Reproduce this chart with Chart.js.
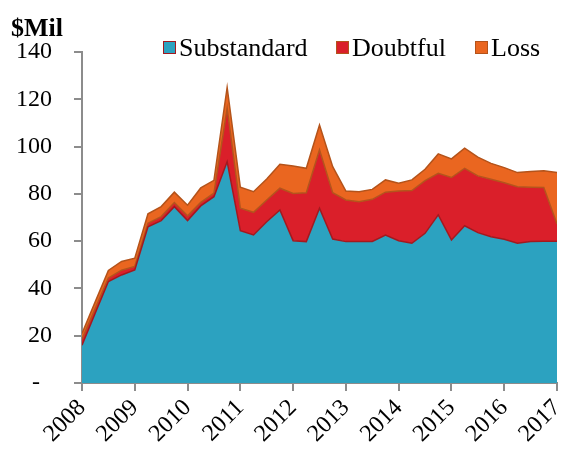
<!DOCTYPE html>
<html>
<head>
<meta charset="utf-8">
<script src="https://cdn.jsdelivr.net/npm/chart.js@4.4.0/dist/chart.umd.min.js"></script>
<style>
    html, body { margin: 0; padding: 0; background: #fff; }
    #wrap { position: relative; width: 561px; height: 454px; }
</style>
</head>
<body>
<div id="wrap"><canvas id="assetChart"></canvas></div>
<script>
// Quarterly values, 2008 Q1 .. 2017 Q1 ($ millions)
const startYear = 2008;
const yearTicks = [2008, 2009, 2010, 2011, 2012, 2013, 2014, 2015, 2016, 2017];

const substandard = [16, 29.5, 42.9, 45.7, 47.8, 66.1, 68.7, 74.6, 68.7, 74.9, 78.8, 93.6,
    64.4, 62.6, 68.2, 73.2, 60.2, 59.8, 73.9, 60.9, 59.8, 59.8, 59.9, 62.6,
    60.2, 59.1, 63.3, 71.1, 60.5, 66.5, 63.6, 61.9, 60.8, 59.1, 59.8, 60, 60];

const doubtful = [2.5, 2, 1.5, 2, 1.5, 1.5, 1.7, 1.7, 2, 1.5, 1.5, 22.6,
    9.5, 9.6, 9.2, 9.2, 20, 20.7, 24.7, 19.6, 17.6, 16.9, 17.8, 18.1,
    21, 22.3, 22.3, 17.6, 26.4, 24.3, 24, 24.3, 23.9, 23.9, 23, 22.7, 7.3];

const loss = [2.5, 2.8, 3.2, 3.7, 3.5, 4, 4.2, 4.4, 4.5, 6.1, 5.4, 8.8,
    8.9, 8.7, 8.9, 10.1, 11.6, 10.3, 10.5, 11, 3.8, 4.2, 4.2, 5.2,
    3.3, 4.5, 4.8, 8.2, 7.9, 8.5, 7.9, 6.7, 6.4, 6, 6.7, 7.1, 21.7];

const seriesNames = ['Substandard', 'Doubtful', 'Loss'];
const fillColors = ['#2CA2C0', '#DA1F2A', '#EA6620'];
const lineColors = ['#A3191F', '#B4541C', '#B4531A'];

const SERIF = '"Liberation Serif", "Times New Roman", serif';
const AXIS_GREY = '#8C8C8C';

// x position of each quarter
function toPoints(values) {
    return values.map((v, i) => ({ x: startYear + i / 4, y: v }));
}

// legend + "$Mil" label drawn on top of the chart
const overlayPlugin = {
    id: 'overlay',
    afterDraw(chart) {
        const c = chart.ctx;
        c.save();
        c.fillStyle = '#000';
        c.font = 'bold 26px ' + SERIF;
        c.textBaseline = 'alphabetic';
        c.textAlign = 'left';
        c.fillText('$Mil', 11, 36);

        c.font = '26px ' + SERIF;
        const boxX = [163, 336, 475];
        chart.data.datasets.forEach((ds, i) => {
            const x = boxX[i];
            c.fillStyle = fillColors[i];
            c.fillRect(x, 41, 13, 13);
            c.strokeStyle = lineColors[i];
            c.lineWidth = 1;
            c.strokeRect(x + 0.5, 41.5, 12, 12);
            c.fillStyle = '#000';
            c.fillText(ds.label, x + 16, 56);
        });
        c.restore();
    }
};

const datasets = [substandard, doubtful, loss].map((vals, i) => ({
    label: seriesNames[i],
    data: toPoints(vals),
    backgroundColor: fillColors[i],
    borderColor: lineColors[i],
    borderWidth: 1.5,
    pointRadius: 0,
    tension: 0,
    fill: i === 0 ? 'origin' : '-1'
}));

new Chart(document.getElementById('assetChart'), {
    type: 'line',
    data: { datasets: datasets },
    plugins: [overlayPlugin],
    options: {
        responsive: true,
        maintainAspectRatio: false,
        animation: false,
        layout: { padding: { top: 52, right: 4, left: 0, bottom: 0 } },
        plugins: {
            legend: { display: false },
            tooltip: { enabled: false }
        },
        scales: {
            x: {
                type: 'linear',
                min: startYear,
                max: yearTicks[yearTicks.length - 1],
                afterBuildTicks: (scale) => {
                    scale.ticks = yearTicks.map(v => ({ value: v }));
                },
                afterFit: (scale) => {
                    scale.height = 71;
                    scale.paddingRight = 0;
                    scale.paddingLeft = 0;
                },
                ticks: {
                    callback: (v) => String(v),
                    font: { family: SERIF, size: 24 },
                    color: '#000',
                    minRotation: 45,
                    maxRotation: 45,
                    padding: 3,
                    autoSkip: false
                },
                grid: {
                    drawOnChartArea: false,
                    tickLength: 8,
                    color: AXIS_GREY,
                    lineWidth: 2
                },
                border: { color: AXIS_GREY, width: 2 }
            },
            y: {
                stacked: true,
                min: 0,
                max: 140,
                afterFit: (scale) => { scale.width = 82; },
                ticks: {
                    stepSize: 20,
                    callback: (v) => v === 0 ? '-  ' : String(v),
                    font: { family: SERIF, size: 24 },
                    color: '#000',
                    padding: 22
                },
                grid: {
                    drawOnChartArea: false,
                    tickLength: 8,
                    color: AXIS_GREY,
                    lineWidth: 2
                },
                border: { color: AXIS_GREY, width: 2 }
            }
        }
    }
});
</script>
</body>
</html>
